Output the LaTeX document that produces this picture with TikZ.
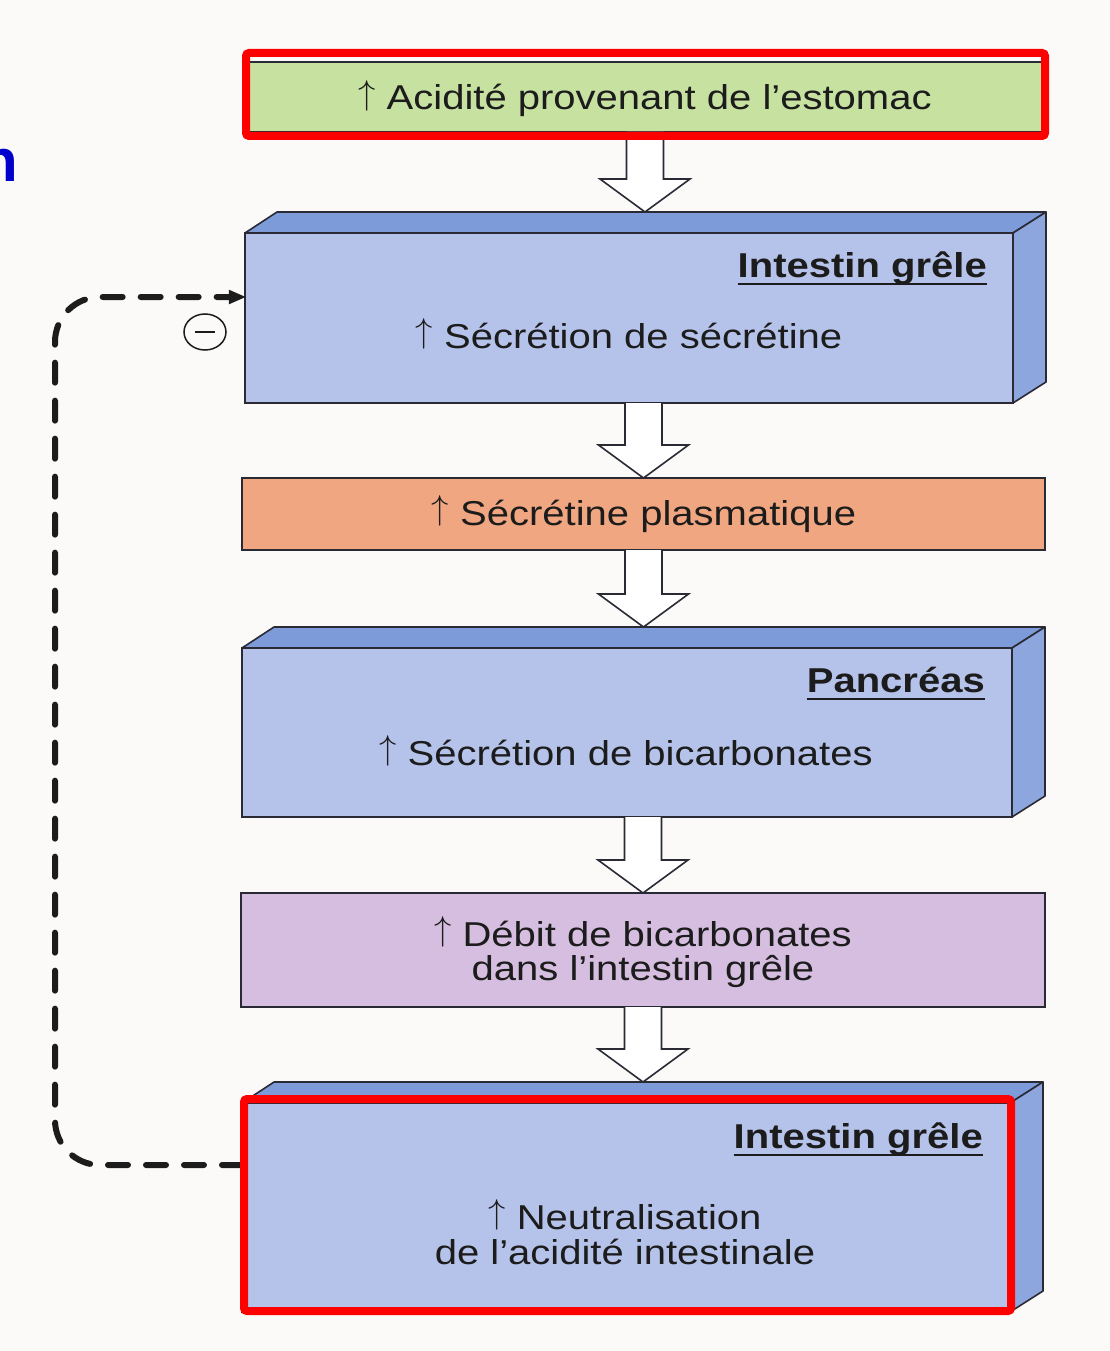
\RequirePackage{fix-cm}
\documentclass[tikz,border=0pt]{standalone}
\usepackage{fontspec}
\setmainfont{Liberation Sans}[FakeStretch=1.16]
\newfontfamily\plainsans{Liberation Sans}
\usetikzlibrary{calc,shapes.geometric,arrows.meta}

\definecolor{bg}{HTML}{FCFAF8}
\definecolor{frontc}{HTML}{B5C3EA}
\definecolor{topc}{HTML}{7D9BD8}
\definecolor{sidec}{HTML}{8DA6DE}
\definecolor{greenc}{HTML}{C7E1A1}
\definecolor{orangec}{HTML}{F0A680}
\definecolor{purplec}{HTML}{D5BEE0}
\definecolor{edge}{HTML}{2A2A35}
\definecolor{ink}{HTML}{1C1C1C}
\definecolor{hilite}{HTML}{FF0000}
\definecolor{titleblue}{HTML}{0000CC}

% small rising arrow in front of each statement
\newcommand{\incr}{\raisebox{0.17em}{$\uparrow$}}

% hollow block arrow: #1 start of shaft, #2 tip
\newcommand{\flowarrow}[2]{%
  \filldraw[fill=white, draw=edge, line width=1.6pt, line join=miter]
    let \p1=#1, \p2=#2 in
    (\x2-18.5pt,\y1) -- (\x2-18.5pt,\y2+33pt) -- (\x2-45pt,\y2+33pt)
    -- (\x2,\y2) -- (\x2+45pt,\y2+33pt) -- (\x2+18.5pt,\y2+33pt)
    -- (\x2+18.5pt,\y1);}

% top and right faces of a raised box
\newcommand{\slab}[1]{%
  \filldraw[fill=topc, draw=edge, line width=1.6pt, line join=round]
    (#1.north west) -- ++(32,-21) -- ($(#1.north east)+(33,-21)$)
    -- (#1.north east) -- cycle;
  \filldraw[fill=sidec, draw=edge, line width=1.6pt, line join=round]
    (#1.north east) -- ++(33,-21) -- ($(#1.south east)+(33,-21)$)
    -- (#1.south east) -- cycle;}

\begin{document}
\begin{tikzpicture}[x=1pt, y=-1pt,
  panel/.style={rectangle, draw=edge, line width=1.6pt, inner sep=0pt, outer sep=0pt},
  txt/.style={anchor=base, inner sep=0pt, text=ink, font=\fontsize{34.5}{34}\selectfont},
  head/.style={anchor=base east, inner sep=0pt, text=ink, font=\fontsize{34.5}{34}\selectfont\bfseries},
  frame/.style={draw=hilite, line width=8pt, rounded corners=3pt},
  feedback/.style={draw=ink, line width=6pt, line cap=round, dash pattern=on 20pt off 18pt, rounded corners=45pt}]

\useasboundingbox (0,0) rectangle (1110,1351);
\fill[bg] (0,0) rectangle (1110,1351);

% cropped heading letter at the left edge
\node[anchor=base west, inner sep=0pt, text=titleblue, font=\fontsize{60}{60}\selectfont\plainsans\bfseries] (edgeletter) at (-19,182) {n};

% panels
\node[panel, fill=greenc, minimum width=796, minimum height=70] (acid) at (645,97) {};
\node[panel, fill=frontc, minimum width=768, minimum height=170] (box1) at (629,318) {};
\node[panel, fill=orangec, minimum width=803, minimum height=72] (sec) at (643.5,514) {};
\node[panel, fill=frontc, minimum width=770, minimum height=169] (box2) at (627,732.5) {};
\node[panel, fill=purplec, minimum width=804, minimum height=114] (debit) at (643,950) {};
\node[panel, fill=frontc, minimum width=768, minimum height=209] (box3) at (626,1207.5) {};

\slab{box1}
\slab{box2}
\slab{box3}

\coordinate (b1top) at ($(box1.north)+(0,-21)$);
\coordinate (b2top) at ($(box2.north)+(0,-21)$);
\coordinate (b3top) at ($(box3.north)+(0,-21)$);

% block arrows between the steps
\flowarrow{(acid.south)}{(acid.south |- b1top)}
\flowarrow{(sec.north |- box1.south)}{(sec.north)}
\flowarrow{(sec.south)}{(sec.south |- b2top)}
\flowarrow{(debit.north |- box2.south)}{(debit.north)}
\flowarrow{(debit.south)}{(debit.south |- b3top)}

% texts
\node[txt] (t0) at (645,110) {\incr\ Acidité provenant de l’estomac};
\node[head] (h1) at (987,277) {Intestin grêle};
\node[txt] (t1) at (629,348) {\incr\ Sécrétion de sécrétine};
\node[txt] (t2) at (644,525) {\incr\ Sécrétine plasmatique};
\node[head] (h2) at (985,692) {Pancréas};
\node[txt] (t3) at (626,765) {\incr\ Sécrétion de bicarbonates};
\node[txt] (t4a) at (643,946) {\incr\ Débit de bicarbonates};
\node[txt] (t4b) at (643,980) {dans l’intestin grêle};
\node[head] (h3) at (983,1148) {Intestin grêle};
\node[txt] (t5a) at (625,1229) {\incr\ Neutralisation};
\node[txt] (t5b) at (625,1264) {de l’acidité intestinale};

\foreach \h in {h1,h2,h3}
  \draw[ink, line width=2.5pt] ($(\h.base west)+(0,7)$) -- ($(\h.base east)+(0,7)$);

% negative feedback loop
\coordinate (fbout) at (box3.west |- 0,1165);
\coordinate (fbin) at (box1.west |- 0,297);
\draw[feedback] (fbout) -- (55,1165) -- (55,297) -- ($(fbin)+(-16,0)$);
\draw[draw=ink, fill=ink] (fbin) -- ++(-16,-7) -- ++(0,14) -- cycle;
\node[ellipse, draw=ink, line width=1.5pt, minimum width=42, minimum height=36, inner sep=0pt] (neg) at (205,332) {};
\draw[ink, line width=2pt] ($(neg.center)+(-10,0)$) -- ($(neg.center)+(10,0)$);

% highlight frames
\draw[frame] (246,53) rectangle (1045,136);
\draw[frame] (244,1099) rectangle (1011,1311);
\end{tikzpicture}
\end{document}
